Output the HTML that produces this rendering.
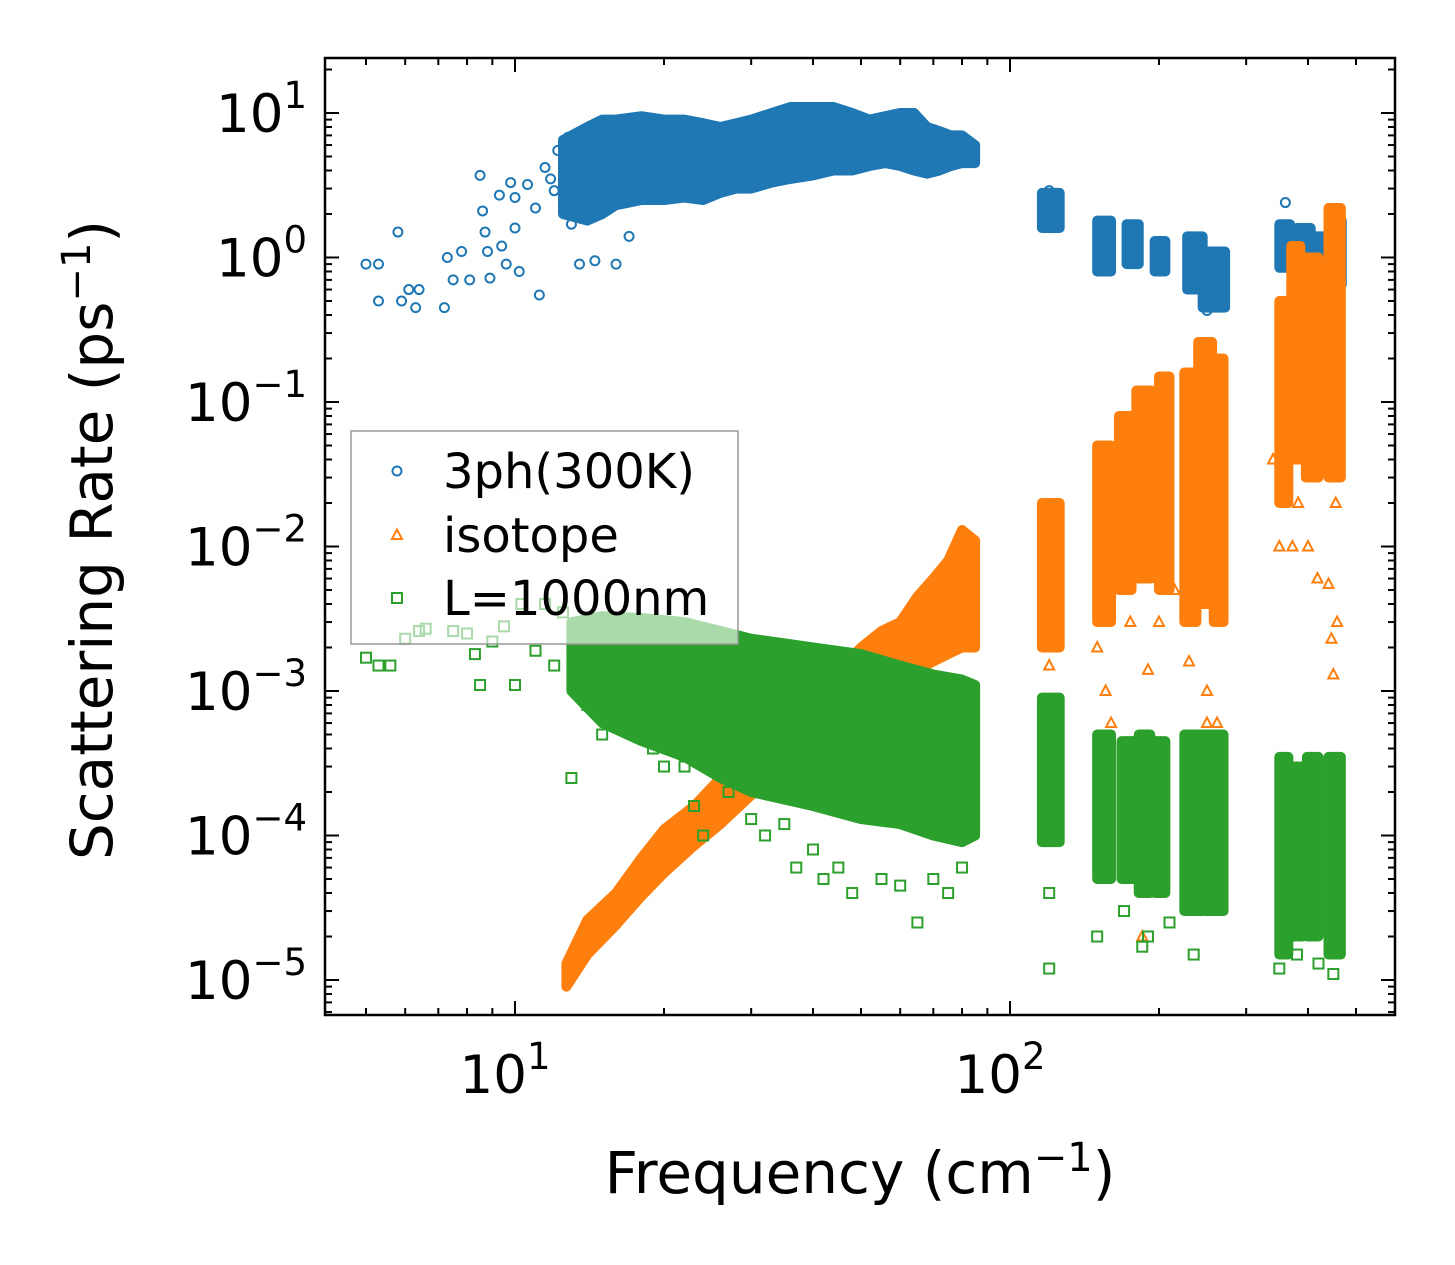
<!DOCTYPE html>
<html><head><meta charset="utf-8"><style>
html,body{margin:0;padding:0;background:#fff;}
svg{display:block;font-family:"DejaVu Sans","Liberation Sans",sans-serif;}
</style></head><body>
<svg id="chart" width="1455" height="1265" viewBox="0 0 1455 1265" xmlns="http://www.w3.org/2000/svg">
<defs><clipPath id="plotclip"><rect x="325" y="58" width="1070" height="957"/></clipPath></defs>
<rect width="1455" height="1265" fill="#fff"/>
<g id="marks" clip-path="url(#plotclip)"></g>
<g id="axes"></g>
<g id="legend"></g>
<text x="860" y="1193" font-size="58" text-anchor="middle">Frequency (cm<tspan dy="-22" font-size="40">−1</tspan><tspan dy="22">)</tspan></text>
<text transform="translate(112,540) rotate(-90)" font-size="58" text-anchor="middle">Scattering Rate (ps<tspan dy="-22" font-size="40">−1</tspan><tspan dy="22">)</tspan></text>
</svg>
<script>
// ---- data ----
const xTickExps = [1, 2];
const yTickExps = [1, 0, -1, -2, -3, -4, -5];
const seriesNames = ["3ph(300K)", "isotope", "L=1000nm"];
const seriesColors = ["#1f77b4", "#ff7f0e", "#2ca02c"];
// dense clouds: [freq, low, high]
const blueCloud = [[12.5,2,6.5],[14,1.8,8],[15,2,9],[16,2.3,9],[18,2.5,9.5],[20,2.5,9],[22,2.6,9],[24,2.5,8.5],[26,2.8,8],[28,3,8.5],[30,3,9],[33,3.3,10],[36,3.5,11],[40,3.7,11],[44,4,11],[48,4,10],[52,4.3,9],[56,4.5,9.5],[60,4.3,10],[64,4,10],[68,3.8,8],[72,4,7.5],[76,4.3,7],[80,4.5,7],[85,4.5,6]];
const orangeCloud = [[12.7,9e-6,1.3e-5],[14,1.5e-5,2.6e-5],[16,2.4e-5,4e-5],[18,3.8e-5,7e-5],[20,5.5e-5,1.1e-4],[23,8.5e-5,1.6e-4],[26,1.2e-4,2.5e-4],[30,1.9e-4,4e-4],[35,2.8e-4,6e-4],[40,3.8e-4,9e-4],[45,5.5e-4,1.4e-3],[50,7.5e-4,2e-3],[55,9e-4,2.6e-3],[60,1.1e-3,3e-3],[65,1.4e-3,4.5e-3],[70,1.6e-3,6e-3],[75,1.8e-3,8e-3],[80,2e-3,1.3e-2],[85,2e-3,1.1e-2]];
const greenCloud = [[13,1e-3,3e-3],[15,6e-4,3.3e-3],[18,4.5e-4,3.2e-3],[22,3.5e-4,3e-3],[26,2.5e-4,2.6e-3],[30,2e-4,2.3e-3],[40,1.6e-4,2e-3],[50,1.3e-4,1.8e-3],[60,1.2e-4,1.5e-3],[70,1e-4,1.3e-3],[80,9e-5,1.2e-3],[85,1e-4,1.1e-3]];
// vertical bands: [f0, f1, low, high]
const blueBands = [[116,126,1.6,2.8],[150,160,0.8,1.8],[172,182,0.9,1.7],[196,206,0.8,1.3],[228,245,0.6,1.4],[245,272,0.45,1.1],[350,368,0.85,1.7],[380,405,0.6,1.6],[410,440,0.8,1.4],[445,468,0.65,1.8]];
const orangeBands = [[116,126,2e-3,2e-2],[150,160,3e-3,5e-2],[166,176,5e-3,8e-2],[180,193,6e-3,1.2e-1],[200,210,5e-3,1.5e-1],[225,238,3e-3,1.6e-1],[240,256,4e-3,2.6e-1],[258,270,3e-3,2e-1],[350,365,2e-2,5e-1],[370,386,4e-2,1.2],[396,420,3e-2,1],[440,466,3e-2,2.2]];
const greenBands = [[116,126,9e-5,9e-4],[150,160,5e-5,5e-4],[168,178,5e-5,4.5e-4],[182,192,4e-5,5e-4],[196,206,4e-5,4.5e-4],[225,245,3e-5,5e-4],[248,270,3e-5,5e-4],[350,365,1.5e-5,3.5e-4],[370,390,2e-5,3e-4],[398,420,2e-5,3.5e-4],[440,466,1.5e-5,3.5e-4]];
// scattered points: [freq, rate]
const bluePts = [[5,0.9],[5.3,0.9],[5.3,0.5],[5.8,1.5],[5.9,0.5],[6.1,0.6],[6.4,0.6],[6.3,0.45],[7.2,0.45],[7.3,1.0],[7.5,0.7],[7.8,1.1],[8.1,0.7],[8.5,3.7],[8.6,2.1],[8.7,1.5],[8.8,1.1],[8.9,0.72],[9.3,2.7],[9.4,1.2],[9.6,0.9],[9.8,3.3],[10,2.6],[10,1.6],[10.2,0.8],[10.6,3.2],[11,2.2],[11.2,0.55],[11.5,4.2],[12,2.9],[12.2,5.5],[13,1.7],[13.5,0.9],[14.5,0.95],[16,0.9],[17,1.4],[12.8,6.8],[13.6,7.4],[11.8,3.5],[360,2.4],[120,2.9],[250,0.43]];
const orangePts = [[120,1.5e-3],[124,7e-4],[122,4e-3],[150,2e-3],[156,1e-3],[160,6e-4],[175,3e-3],[185,2e-5],[190,1.4e-3],[200,3e-3],[215,5e-3],[230,1.6e-3],[250,1e-3],[262,6e-4],[350,1e-2],[372,1e-2],[400,1e-2],[418,6e-3],[440,5.5e-3],[446,2.3e-3],[450,1.3e-3],[455,2e-2],[458,3e-3],[250,6e-4],[340,4e-2],[382,2e-2]];
const greenPts = [[5,1.7e-3],[5.3,1.5e-3],[5.6,1.5e-3],[6,2.3e-3],[6.4,2.6e-3],[6.6,2.7e-3],[7.5,2.6e-3],[8,2.5e-3],[8.3,1.8e-3],[8.5,1.1e-3],[9,2.2e-3],[9.5,2.8e-3],[10,1.1e-3],[10.3,4e-3],[11,1.9e-3],[11.5,4e-3],[12,1.5e-3],[12.5,3.5e-3],[13,2.5e-4],[14,8e-4],[15,5e-4],[17,6e-4],[19,4e-4],[20,3e-4],[22,3e-4],[23,1.6e-4],[24,1e-4],[27,2e-4],[30,1.3e-4],[32,1e-4],[35,1.2e-4],[37,6e-5],[40,8e-5],[42,5e-5],[45,6e-5],[48,4e-5],[55,5e-5],[60,4.5e-5],[65,2.5e-5],[70,5e-5],[75,4e-5],[80,6e-5],[120,1.2e-5],[120,4e-5],[150,2e-5],[170,3e-5],[185,1.7e-5],[190,2e-5],[210,2.5e-5],[235,1.5e-5],[350,1.2e-5],[380,1.5e-5],[420,1.3e-5],[450,1.1e-5]];

// ---- axes functions ----
const PX0=325, PX1=1395, PY0=58, PY1=1015;
const XD=495, YD=144.5;
function X(f){ return 515 + (Math.log10(f)-1)*XD; }
function Y(r){ return 113 - (Math.log10(r)-1)*YD; }
const NS="http://www.w3.org/2000/svg";
function mk(tag, attrs, parent){ const e=document.createElementNS(NS,tag); for(const k in attrs) e.setAttribute(k,attrs[k]); parent.appendChild(e); return e; }
const marks=document.getElementById('marks');
const axes=document.getElementById('axes');
const legend=document.getElementById('legend');

function cloud(data, color, name){
  const up=data.map(d=>X(d[0]).toFixed(1)+','+Y(d[2]).toFixed(1));
  const lo=data.slice().reverse().map(d=>X(d[0]).toFixed(1)+','+Y(d[1]).toFixed(1));
  const p=mk('polygon',{points:up.concat(lo).join(' '),fill:color,stroke:color,'stroke-width':10,'stroke-linejoin':'round'},marks);
  
  
}
function bands(data, color, name){
  data.forEach(d=>{
    const r=mk('rect',{x:X(d[0]),y:Y(d[3]),width:X(d[1])-X(d[0]),height:Y(d[2])-Y(d[3]),fill:color,stroke:color,'stroke-width':10,'stroke-linejoin':'round'},marks);
    
    
  });
}
function marker(kind, x, y, color, parent){
  let e;
  if(kind==='c') e=mk('circle',{cx:x,cy:y,r:4.5,fill:'none',stroke:color,'stroke-width':2},parent);
  else if(kind==='t') e=mk('polygon',{points:`${x},${y-5.5} ${x+5},${y+4} ${x-5},${y+4}`,fill:'none',stroke:color,'stroke-width':2},parent);
  else e=mk('rect',{x:x-5,y:y-5,width:10,height:10,fill:'none',stroke:color,'stroke-width':2},parent);
  return e;
}
function points(data, kind, color, name){
  data.forEach(d=>{
    const e=marker(kind, X(d[0]), Y(d[1]), color, marks);
    
    
  });
}
cloud(blueCloud, seriesColors[0], 'threeph-cloud');
bands(blueBands, seriesColors[0], 'threeph-band');
points(bluePts, 'c', seriesColors[0], 'threeph-point');
cloud(orangeCloud, seriesColors[1], 'isotope-cloud');
bands(orangeBands, seriesColors[1], 'isotope-band');
points(orangePts, 't', seriesColors[1], 'isotope-point');
cloud(greenCloud, seriesColors[2], 'boundary-cloud');
bands(greenBands, seriesColors[2], 'boundary-band');
points(greenPts, 's', seriesColors[2], 'boundary-point');

// frame
const fr=mk('rect',{x:PX0,y:PY0,width:PX1-PX0,height:PY1-PY0,fill:'none',stroke:'#000','stroke-width':2.5},axes);


// x ticks
for(let e=0;e<=2;e++){
  for(let m=1;m<=9;m++){
    const x=X(m*Math.pow(10,e));
    if(x<PX0||x>PX1) continue;
    const L=(m===1)?14:7;
    mk('line',{x1:x,y1:PY1,x2:x,y2:PY1-L,stroke:'#000','stroke-width':2},axes);
    mk('line',{x1:x,y1:PY0,x2:x,y2:PY0+L,stroke:'#000','stroke-width':2},axes);
  }
}
xTickExps.forEach(e=>{
  const t=mk('text',{x:X(Math.pow(10,e))-10,y:1093,'font-size':53,'text-anchor':'middle'},axes);
  t.innerHTML='10<tspan dy="-24" font-size="37">'+e+'</tspan>';
  
  
});
// y ticks
for(let e=-6;e<=1;e++){
  for(let m=1;m<=9;m++){
    const y=Y(m*Math.pow(10,e));
    if(y<PY0||y>PY1) continue;
    const L=(m===1)?14:7;
    mk('line',{x1:PX0,y1:y,x2:PX0+L,y2:y,stroke:'#000','stroke-width':2},axes);
    mk('line',{x1:PX1,y1:y,x2:PX1-L,y2:y,stroke:'#000','stroke-width':2},axes);
  }
}
yTickExps.forEach(e=>{
  const t=mk('text',{x:307,y:Y(Math.pow(10,e))+19,'font-size':53,'text-anchor':'end'},axes);
  t.innerHTML='10<tspan dy="-24" font-size="37">'+(e<0?'−'+(-e):e)+'</tspan>';
  
  
});
// legend
const lb=mk('rect',{x:351,y:431,width:387,height:213,fill:'#fff','fill-opacity':0.6,stroke:'#999','stroke-width':1.5},legend);


const kinds=['c','t','s'];
const ly=[471,535,598];
seriesNames.forEach((n,i)=>{
  const m=marker(kinds[i],397,ly[i],seriesColors[i],legend);
  
  
  const t=mk('text',{x:443,y:ly[i]+17,'font-size':48},legend);
  t.textContent=n;
  
  
});
</script>
</body></html>
